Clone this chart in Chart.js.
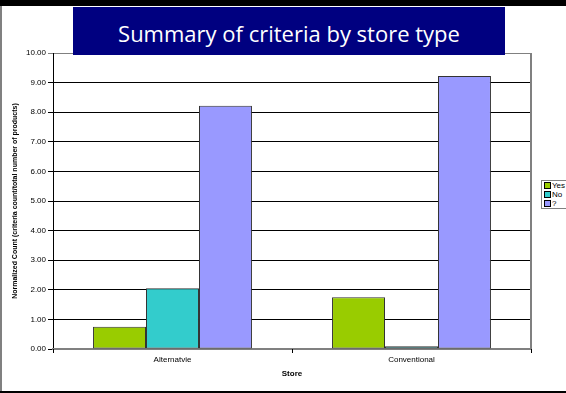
<!DOCTYPE html>
<html lang="en">
<head>
<meta charset="UTF-8">
<title>Summary of criteria by store type</title>
<script src="https://cdn.jsdelivr.net/npm/chart.js"></script>
<style>
    body { margin: 0; background: #fff; }
    #slide { position: relative; width: 566px; height: 393px; overflow: hidden; background: #fff; }
    #topBar { position: absolute; left: 0; top: 0; width: 566px; height: 6px; background: #000; }
    #leftEdge { position: absolute; left: 0; top: 6px; width: 2px; height: 387px; background: #808080; }
    #bottomBar { position: absolute; left: 0; top: 391px; width: 566px; height: 2px; background: #000; }
    #chartBox { position: absolute; left: 0; top: 0; width: 566px; height: 393px; }
    #heading {
        position: absolute; left: 73px; top: 7px; width: 432px; height: 48px;
        background: #000080; color: #fff; text-align: center;
        font: 22px "Open Sans", sans-serif; line-height: 52px;
    }
    #legend {
        position: absolute; left: 541px; top: 180px; width: 40px; height: 27px;
        border: 1px solid #808080; background: #fff;
        font: 8px "Liberation Sans", Arial, sans-serif; color: #000;
    }
    #legend div { height: 8px; line-height: 8px; margin-top: 1px; white-space: nowrap; }
    #legend span { display: inline-block; width: 5px; height: 5px; border: 1px solid #000; margin: 0 1px 0 2px; vertical-align: -1px; }
</style>
</head>
<body>
<div id="slide">
    <div id="topBar"></div>
    <div id="leftEdge"></div>
    <div id="chartBox"><canvas id="storeChart" width="566" height="393"></canvas></div>
    <div id="bottomBar"></div>
    <div id="heading">Summary of criteria by store type</div>
    <div id="legend"></div>
</div>

<script>
    // Data
    const stores = ['Alternatvie', 'Conventional'];
    const seriesNames = ['Yes', 'No', '?'];
    const yesCounts = [0.75, 1.75];
    const noCounts = [2.05, 0.09];
    const unknownCounts = [8.22, 9.22];
    const seriesColors = ['#99CC00', '#33CCCC', '#9999FF'];

    const armFont = '"Liberation Sans", Arial, sans-serif';

    // right edge of the plot area + category tick marks below the axis
    const plotFrame = {
        id: 'plotFrame',
        afterDraw(chart) {
            const { ctx, chartArea } = chart;
            const x = chart.scales.x;
            ctx.save();
            ctx.strokeStyle = '#808080';
            ctx.lineWidth = 2;
            ctx.beginPath();
            ctx.moveTo(chartArea.right, chartArea.top);
            ctx.lineTo(chartArea.right, chartArea.bottom);
            ctx.stroke();
            ctx.strokeStyle = '#000';
            ctx.lineWidth = 1;
            ctx.beginPath();
            for (let i = 0; i <= stores.length; i++) {
                const px = Math.round(x.getPixelForValue(i - 0.5)) + 0.5;
                ctx.moveTo(px, chartArea.bottom);
                ctx.lineTo(px, chartArea.bottom + 4);
            }
            ctx.stroke();
            ctx.restore();
        }
    };

    const chart = new Chart(document.getElementById('storeChart'), {
        type: 'bar',
        data: {
            labels: stores,
            datasets: [yesCounts, noCounts, unknownCounts].map((values, i) => ({
                label: seriesNames[i],
                data: values,
                backgroundColor: seriesColors[i],
                borderColor: '#333333',
                borderWidth: 1,
                borderSkipped: false,
                categoryPercentage: 0.665,
                barPercentage: 1.0
            }))
        },
        options: {
            responsive: false,
            animation: false,
            devicePixelRatio: 1,
            layout: { padding: { top: 53, right: 35, bottom: 14, left: 0 } },
            plugins: {
                legend: { display: false },
                tooltip: { enabled: false }
            },
            scales: {
                y: {
                    min: 0,
                    max: 10,
                    ticks: {
                        stepSize: 1,
                        color: '#000',
                        padding: 2,
                        font: { family: armFont, size: 8 },
                        callback: (v) => v.toFixed(2)
                    },
                    grid: {
                        color: (c) => (c.tick && c.tick.value === 10 ? '#808080' : '#000'),
                        lineWidth: 1,
                        tickLength: 5
                    },
                    border: { color: '#000', width: 1 },
                    title: {
                        display: true,
                        text: 'Normalized Count (criteria count/total number of products)',
                        color: '#000',
                        font: { family: armFont, size: 7, weight: 'bold' },
                        padding: { top: 11, bottom: 0 }
                    },
                    afterFit: (scale) => { scale.width = 53; }
                },
                x: {
                    grid: {
                        display: false
                    },
                    border: { color: '#808080', width: 2 },
                    ticks: {
                        color: '#000',
                        padding: -2,
                        font: { family: armFont, size: 8 }
                    },
                    title: {
                        display: true,
                        text: 'Store',
                        color: '#000',
                        font: { family: armFont, size: 8, weight: 'bold' },
                        padding: { top: 4, bottom: 0 }
                    },
                    afterFit: (scale) => { scale.height = 30; }
                }
            }
        },
        plugins: [plotFrame]
    });

    // legend built from the datasets
    const legendBox = document.getElementById('legend');
    chart.data.datasets.forEach((ds) => {
        const row = document.createElement('div');
        row.innerHTML = `<span style="background:${ds.backgroundColor}"></span>${ds.label}`;
        legendBox.appendChild(row);
    });
</script>
</body>
</html>
